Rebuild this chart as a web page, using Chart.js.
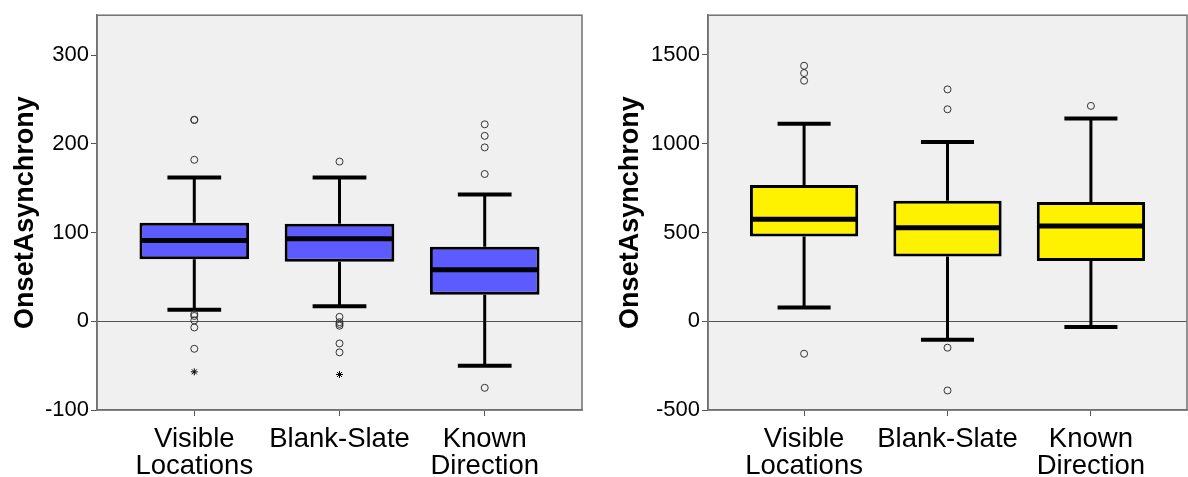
<!DOCTYPE html>
<html>
<head>
<meta charset="utf-8">
<script src="https://cdn.jsdelivr.net/npm/chart.js@4.4.1/dist/chart.umd.min.js"></script>
<style>
    html, body { margin: 0; padding: 0; background: #fff; overflow: hidden; }
    #wrap { position: relative; width: 1188px; height: 477px; overflow: hidden; }
    #leftBox { position: absolute; left: 0; top: 0; width: 600px; height: 477px; }
    #rightBox { position: absolute; left: 600px; top: 0; width: 592px; height: 477px; }
</style>
</head>
<body>
<div id="wrap">
    <div id="leftBox"><canvas id="leftChart"></canvas></div>
    <div id="rightBox"><canvas id="rightChart"></canvas></div>
</div>
<script>
const categories = [['Visible', 'Locations'], 'Blank-Slate', ['Known', 'Direction']];

// left panel (blue)
const leftWhiskerLow = [13, 17, -50];
const leftQ1 = [70, 67, 30];
const leftMedian = [91, 93, 58];
const leftQ3 = [111, 110, 84];
const leftWhiskerHigh = [162, 162, 143];
const leftOutliers = [[227, 227, 182, 8, 6, 1, -7, -31], [180, 5, -1, -3, -5, -25, -35], [222, 209, 196, 166, -75]];
const leftExtremes = [[-57], [-60], []];
const leftTicks = [-100, 0, 100, 200, 300];

// right panel (yellow)
const rightWhiskerLow = [78, -104, -32];
const rightQ1 = [478, 364, 340];
const rightMedian = [575, 526, 536];
const rightQ3 = [767, 679, 672];
const rightWhiskerHigh = [1112, 1010, 1142];
const rightOutliers = [[1439, 1398, 1355, -183], [1306, 1194, -149, -390], [1213]];
const rightExtremes = [[], [], []];
const rightTicks = [-500, 0, 500, 1000, 1500];

Chart.defaults.font.family = '"Liberation Sans", Arial, sans-serif';
Chart.defaults.color = '#000';

// whiskers, caps and medians, placed through the chart scales
const boxExtras = {
    id: 'boxExtras',
    beforeDraw(chart) {
        const a = chart.chartArea;
        const ctx = chart.ctx;
        ctx.save();
        ctx.fillStyle = '#f0f0f0';
        ctx.fillRect(a.left, a.top, a.right - a.left, a.bottom - a.top);
        ctx.restore();
    },
    beforeDatasetsDraw(chart) {
        const s = chart.options.plugins.boxExtras;
        const x = chart.scales.x, y = chart.scales.y;
        const ctx = chart.ctx;
        ctx.save();
        ctx.strokeStyle = '#000';
        for (let i = 0; i < s.median.length; i++) {
            const cx = x.getPixelForValue(i + 1);
            const c0 = x.getPixelForValue(i + 1 - 0.185);
            const c1 = x.getPixelForValue(i + 1 + 0.185);
            ctx.lineWidth = 3;
            ctx.beginPath();
            ctx.moveTo(cx, y.getPixelForValue(s.q3[i]));
            ctx.lineTo(cx, y.getPixelForValue(s.high[i]));
            ctx.moveTo(cx, y.getPixelForValue(s.q1[i]));
            ctx.lineTo(cx, y.getPixelForValue(s.low[i]));
            ctx.stroke();
            ctx.lineWidth = 4;
            ctx.beginPath();
            ctx.moveTo(c0, y.getPixelForValue(s.high[i]));
            ctx.lineTo(c1, y.getPixelForValue(s.high[i]));
            ctx.moveTo(c0, y.getPixelForValue(s.low[i]));
            ctx.lineTo(c1, y.getPixelForValue(s.low[i]));
            ctx.stroke();
        }
        ctx.restore();
    },
    afterDatasetsDraw(chart) {
        const s = chart.options.plugins.boxExtras;
        const x = chart.scales.x, y = chart.scales.y;
        const ctx = chart.ctx;
        ctx.save();
        ctx.strokeStyle = '#000';
        ctx.lineWidth = 5;
        for (let i = 0; i < s.median.length; i++) {
            const m = y.getPixelForValue(s.median[i]);
            ctx.beginPath();
            ctx.moveTo(x.getPixelForValue(i + 1 - 0.372), m);
            ctx.lineTo(x.getPixelForValue(i + 1 + 0.372), m);
            ctx.stroke();
        }
        const a = chart.chartArea;
        ctx.strokeStyle = '#707070';
        ctx.lineWidth = 1.5;
        ctx.strokeRect(a.left, a.top, a.right - a.left, a.bottom - a.top);
        ctx.restore();
    }
};

function makeBoxChart(id, opt) {
    const boxes = opt.q1.map((v, i) => ({ x: i + 1, y: [v, opt.q3[i]] }));
    const outs = [];
    opt.outliers.forEach((list, i) => list.forEach(v => outs.push({ x: i + 1, y: v })));
    const stars = [];
    opt.extremes.forEach((list, i) => list.forEach(v => stars.push({ x: i + 1, y: v })));

    return new Chart(document.getElementById(id), {
        type: 'bar',
        data: {
            datasets: [{
                type: 'bar',
                data: boxes,
                backgroundColor: opt.fill,
                borderColor: '#000',
                borderWidth: 3,
                borderSkipped: false,
                categoryPercentage: 1,
                barPercentage: 0.755,
                order: 2
            }, {
                type: 'scatter',
                data: outs,
                pointStyle: 'circle',
                pointRadius: 3.5,
                borderWidth: 1,
                borderColor: '#333',
                backgroundColor: 'rgba(0,0,0,0)',
                order: 1
            }, {
                type: 'scatter',
                data: stars,
                pointStyle: 'star',
                pointRadius: 3.5,
                borderWidth: 1,
                borderColor: '#000',
                backgroundColor: '#000',
                order: 1
            }]
        },
        options: {
            responsive: true,
            maintainAspectRatio: false,
            animation: false,
            layout: { padding: { top: 13, right: opt.padRight, left: 0, bottom: 0 } },
            plugins: {
                legend: { display: false },
                tooltip: { enabled: false },
                boxExtras: {
                    low: opt.low, q1: opt.q1, median: opt.median, q3: opt.q3, high: opt.high
                }
            },
            scales: {
                x: {
                    type: 'linear',
                    min: 0.33,
                    max: 3.67,
                    offset: false,
                    afterBuildTicks: function(scale) {
                        scale.ticks = categories.map((c, i) => ({ value: i + 1 }));
                    },
                    afterFit: function(scale) {
                        scale.height = 67;
                    },
                    ticks: {
                        autoSkip: false,
                        maxRotation: 0,
                        padding: 10,
                        font: { size: 27.5, lineHeight: 0.98 },
                        callback: function(value) {
                            return categories[value - 1];
                        }
                    },
                    grid: { offset: false, drawOnChartArea: false, tickLength: 6, tickColor: '#555', lineWidth: 1 },
                    border: { color: '#707070', width: 1.5 }
                },
                y: {
                    min: opt.yMin,
                    max: opt.yMax,
                    afterBuildTicks: function(scale) {
                        scale.ticks = opt.ticks.map(v => ({ value: v }));
                    },
                    afterFit: function(scale) {
                        scale.width = opt.axisWidth;
                    },
                    ticks: {
                        padding: 2,
                        font: { size: 22 },
                        callback: function(value) {
                            return String(value);
                        }
                    },
                    grid: {
                        tickLength: 6,
                        tickColor: '#555',
                        color: function(ctx) {
                            return ctx.tick && ctx.tick.value === 0 ? '#555' : 'rgba(0,0,0,0)';
                        },
                        lineWidth: 1
                    },
                    border: { color: '#707070', width: 1.5 },
                    title: {
                        display: true,
                        text: 'OnsetAsynchrony',
                        font: { size: 27, weight: 'bold' },
                        padding: { top: opt.titlePad, bottom: 0 }
                    }
                }
            }
        },
        plugins: [boxExtras]
    });
}

makeBoxChart('leftChart', {
    low: leftWhiskerLow, q1: leftQ1, median: leftMedian, q3: leftQ3, high: leftWhiskerHigh,
    outliers: leftOutliers, extremes: leftExtremes, ticks: leftTicks,
    yMin: -100, yMax: 345, fill: '#5b5bff',
    axisWidth: 97, padRight: 18, titlePad: 9
});

makeBoxChart('rightChart', {
    low: rightWhiskerLow, q1: rightQ1, median: rightMedian, q3: rightQ3, high: rightWhiskerHigh,
    outliers: rightOutliers, extremes: rightExtremes, ticks: rightTicks,
    yMin: -500, yMax: 1724, fill: '#fff200',
    axisWidth: 108, padRight: 3, titlePad: 14
});
</script>
</body>
</html>
